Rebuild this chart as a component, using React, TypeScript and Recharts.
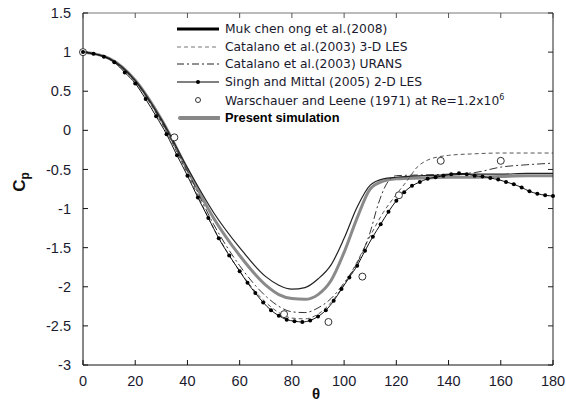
import { ComposedChart, Legend, Line, Scatter, XAxis, YAxis } from "recharts"

const thetaTicks = [0, 20, 40, 60, 80, 100, 120, 140, 160, 180]
const cpTicks = [-3, -2.5, -2, -1.5, -1, -0.5, 0, 0.5, 1, 1.5]

// Muk chen ong et al. (2008)
const mukTheta = [0, 10, 20, 30, 40, 50, 60, 70, 75, 80, 85, 90, 95, 100, 105, 110, 115, 120, 130, 140, 150, 160, 170, 180]
const mukCp = [1, 0.92, 0.64, 0.14, -0.48, -1.05, -1.5, -1.87, -1.98, -2.03, -2.01, -1.9, -1.72, -1.38, -0.98, -0.7, -0.62, -0.6, -0.58, -0.57, -0.56, -0.56, -0.55, -0.55]

// Present simulation
const presTheta = [0, 10, 20, 30, 40, 50, 60, 70, 75, 80, 85, 90, 95, 100, 105, 110, 115, 120, 130, 140, 150, 160, 170, 180]
const presCp = [1, 0.92, 0.64, 0.14, -0.5, -1.12, -1.6, -1.98, -2.1, -2.15, -2.16, -2.1, -1.92, -1.56, -1.12, -0.75, -0.65, -0.62, -0.61, -0.6, -0.6, -0.59, -0.58, -0.58]

// Catalano et al. (2003) 3-D LES
const lesTheta = [0, 10, 20, 30, 40, 50, 60, 70, 75, 80, 85, 90, 95, 100, 105, 110, 115, 120, 124, 128, 132, 140, 150, 160, 170, 180]
const lesCp = [1, 0.91, 0.62, 0.1, -0.55, -1.25, -1.8, -2.2, -2.33, -2.4, -2.41, -2.35, -2.2, -1.97, -1.68, -1.35, -1.05, -0.82, -0.65, -0.47, -0.38, -0.32, -0.3, -0.29, -0.29, -0.29]

// Catalano et al. (2003) URANS
const uransTheta = [0, 10, 20, 30, 40, 50, 60, 70, 75, 80, 85, 90, 95, 100, 105, 110, 113, 116, 120, 130, 140, 150, 160, 170, 180]
const uransCp = [1, 0.92, 0.63, 0.12, -0.52, -1.2, -1.73, -2.12, -2.25, -2.32, -2.33, -2.27, -2.15, -1.95, -1.7, -1.3, -0.95, -0.7, -0.58, -0.57, -0.56, -0.54, -0.47, -0.44, -0.42]

// Singh and Mittal (2005) 2-D LES
const singhTheta = [0, 4, 8, 12, 16, 20, 24, 28, 32, 36, 40, 44, 48, 52, 56, 60, 63, 66, 69, 72, 75, 78, 81, 84, 87, 90, 93, 96, 99, 102, 105, 108, 111, 114, 117, 120, 123, 126, 129, 132, 135, 138, 141, 144, 147, 150, 153, 156, 159, 162, 165, 168, 171, 174, 177, 180]
const singhCp = [1, 0.98, 0.94, 0.87, 0.74, 0.6, 0.4, 0.18, -0.05, -0.32, -0.58, -0.86, -1.12, -1.38, -1.6, -1.8, -1.95, -2.08, -2.2, -2.3, -2.37, -2.42, -2.44, -2.45, -2.43, -2.38, -2.3, -2.18, -2.03, -1.88, -1.73, -1.54, -1.36, -1.2, -1.04, -0.9, -0.79, -0.71, -0.66, -0.62, -0.6, -0.58, -0.56, -0.55, -0.56, -0.58, -0.59, -0.61, -0.63, -0.66, -0.69, -0.73, -0.78, -0.81, -0.83, -0.84]

// Warschauer and Leene (1971)
const expTheta = [0, 35, 77, 94, 107, 121, 137, 160]
const expCp = [1, -0.09, -2.35, -2.45, -1.87, -0.83, -0.39, -0.39]

const toPoints = (t: number[], c: number[]) => t.map((theta, i) => ({ theta, cp: c[i] }))

const font = "'Liberation Sans', Arial, sans-serif"
const legendFont = "'DejaVu Sans', Verdana, sans-serif"
const textColor = "#1a1a2e"

const legendItems = [
  { label: "Muk chen ong et al.(2008)", kind: "thick" },
  { label: "Catalano et al.(2003) 3-D LES", kind: "dash" },
  { label: "Catalano et al.(2003) URANS", kind: "dashdot" },
  { label: "Singh and Mittal (2005) 2-D LES", kind: "dotline" },
  { label: "Warschauer and Leene (1971) at Re=1.2x10", kind: "circle" },
  { label: "Present simulation", kind: "gray" },
]

const Sample = ({ kind }: { kind: string }) => {
  return (
    <svg width={44} height={12} style={{ marginRight: 5, flexShrink: 0 }}>
      {kind === "thick" && <line x1={1} y1={6} x2={43} y2={6} stroke="#000" strokeWidth={3} />}
      {kind === "dash" && <line x1={1} y1={6} x2={43} y2={6} stroke="#777" strokeWidth={1} strokeDasharray="4 3" />}
      {kind === "dashdot" && <line x1={1} y1={6} x2={43} y2={6} stroke="#222" strokeWidth={1} strokeDasharray="7 3 2 3" />}
      {kind === "dotline" && (
        <>
          <line x1={1} y1={6} x2={43} y2={6} stroke="#000" strokeWidth={1} />
          <circle cx={22} cy={6} r={2} fill="#000" />
        </>
      )}
      {kind === "circle" && <circle cx={22} cy={6} r={2.5} fill="#fff" stroke="#333" strokeWidth={1} />}
      {kind === "gray" && <line x1={4} y1={6} x2={43} y2={6} stroke="#888" strokeWidth={4} strokeLinecap="round" />}
    </svg>
  )
}

const ChartLegend = () => (
  <div style={{ fontFamily: legendFont, fontSize: 12.3, color: textColor }}>
    {legendItems.map((it, i) => (
      <div key={i} style={{ display: "flex", alignItems: "center", height: 17.8, whiteSpace: "nowrap" }}>
        <Sample kind={it.kind} />
        {it.kind === "circle" ? (
          <span>
            {it.label}
            <sup style={{ fontSize: 8 }}>6</sup>
          </span>
        ) : it.kind === "gray" ? (
          <span style={{ fontFamily: font, fontWeight: "bold", fontSize: 12.8, color: "#000" }}>{it.label}</span>
        ) : (
          <span>{it.label}</span>
        )}
      </div>
    ))}
  </div>
)

const CpLabel = () => (
  <text transform="translate(25,182) rotate(-90)" textAnchor="middle" fontFamily={font} fontWeight="bold" fontSize={17} fill="#111">
    C<tspan fontSize={12} dy={4}>p</tspan>
  </text>
)

const ThetaLabel = () => (
  <text x={316} y={399} textAnchor="middle" fontFamily={font} fontWeight="bold" fontSize={15} fill="#111">
    θ
  </text>
)

const OpenCircle = (props: any) => {
  const { cx, cy } = props
  return <circle cx={cx} cy={cy} r={3.5} fill="#fff" stroke="#333" strokeWidth={1} />
}

const TICK = 5

// ticks are drawn inward, with the label outside
const BottomTick = (props: any) => {
  const { x, y, payload } = props
  const axisY = y - 11
  return (
    <g>
      <line x1={x} y1={axisY} x2={x} y2={axisY - TICK} stroke="#111" />
      <text x={x} y={y} dy="0.71em" textAnchor="middle" fontFamily={font} fontSize={14.5} fill={textColor}>
        {payload.value}
      </text>
    </g>
  )
}

const LeftTick = (props: any) => {
  const { x, y, payload } = props
  const axisX = x + 12
  return (
    <g>
      <line x1={axisX} y1={y} x2={axisX + TICK} y2={y} stroke="#111" />
      <text x={x} y={y} dy="0.355em" textAnchor="end" fontFamily={font} fontSize={14.5} fill={textColor}>
        {payload.value}
      </text>
    </g>
  )
}

const TopTick = (props: any) => {
  const { x, y } = props
  return <line x1={x} y1={y} x2={x} y2={y + TICK} stroke="#555" />
}

const RightTick = (props: any) => {
  const { x, y } = props
  return <line x1={x} y1={y} x2={x - TICK} y2={y} stroke="#222" />
}

export default function App() {
  return (
    <div style={{ position: "absolute", left: 0, top: 0, background: "#fff" }}>
      <ComposedChart width={566} height={405} margin={{ top: 12, right: 12, bottom: 0, left: 0 }}>
        <XAxis
          xAxisId={0}
          dataKey="theta"
          type="number"
          domain={[0, 180]}
          ticks={thetaTicks}
          height={40}
          tickSize={0}
          tickMargin={11}
          tickLine={false}
          stroke="#111"
          tick={<BottomTick />}
          label={<ThetaLabel />}
        />
        <XAxis
          xAxisId="top"
          dataKey="theta"
          orientation="top"
          type="number"
          domain={[0, 180]}
          ticks={thetaTicks}
          height={1}
          tickSize={0}
          tickMargin={0}
          tickLine={false}
          tick={<TopTick />}
          stroke="#777"
        />
        <YAxis
          yAxisId={0}
          type="number"
          domain={[-3, 1.5]}
          ticks={cpTicks}
          width={83}
          tickSize={0}
          tickMargin={12}
          tickLine={false}
          stroke="#111"
          tick={<LeftTick />}
          label={<CpLabel />}
        />
        <YAxis
          yAxisId="right"
          orientation="right"
          type="number"
          domain={[-3, 1.5]}
          ticks={cpTicks}
          width={1}
          tickSize={0}
          tickMargin={0}
          tickLine={false}
          tick={<RightTick />}
          stroke="#222"
        />
        <Line data={toPoints(presTheta, presCp)} dataKey="cp" type="monotone" stroke="#8a8a8a" strokeWidth={3} dot={false} isAnimationActive={false} />
        <Line data={toPoints(lesTheta, lesCp)} dataKey="cp" type="monotone" stroke="#555" strokeWidth={1} strokeDasharray="4 3" dot={false} isAnimationActive={false} />
        <Line data={toPoints(uransTheta, uransCp)} dataKey="cp" type="monotone" stroke="#333" strokeWidth={1} strokeDasharray="8 3 2 3" dot={false} isAnimationActive={false} />
        <Line data={toPoints(mukTheta, mukCp)} dataKey="cp" type="monotone" stroke="#222" strokeWidth={1.2} dot={false} isAnimationActive={false} />
        <Line
          data={toPoints(singhTheta, singhCp)}
          dataKey="cp"
          type="monotone"
          stroke="#111"
          strokeWidth={1}
          dot={{ r: 2, fill: "#000", stroke: "#000", strokeWidth: 0 }}
          isAnimationActive={false}
        />
        <Scatter data={toPoints(expTheta, expCp)} dataKey="cp" shape={<OpenCircle />} isAnimationActive={false} />
        {/* invisible series so the framing axes have something bound to them */}
        <Line
          data={toPoints(expTheta, expCp)}
          dataKey="cp"
          xAxisId="top"
          yAxisId="right"
          stroke="none"
          dot={false}
          activeDot={false}
          legendType="none"
          isAnimationActive={false}
        />
        <Legend
          layout="vertical"
          align="center"
          verticalAlign="middle"
          content={<ChartLegend />}
          wrapperStyle={{ position: "absolute", left: 176, top: 20, width: 300 }}
        />
      </ComposedChart>
    </div>
  )
}
